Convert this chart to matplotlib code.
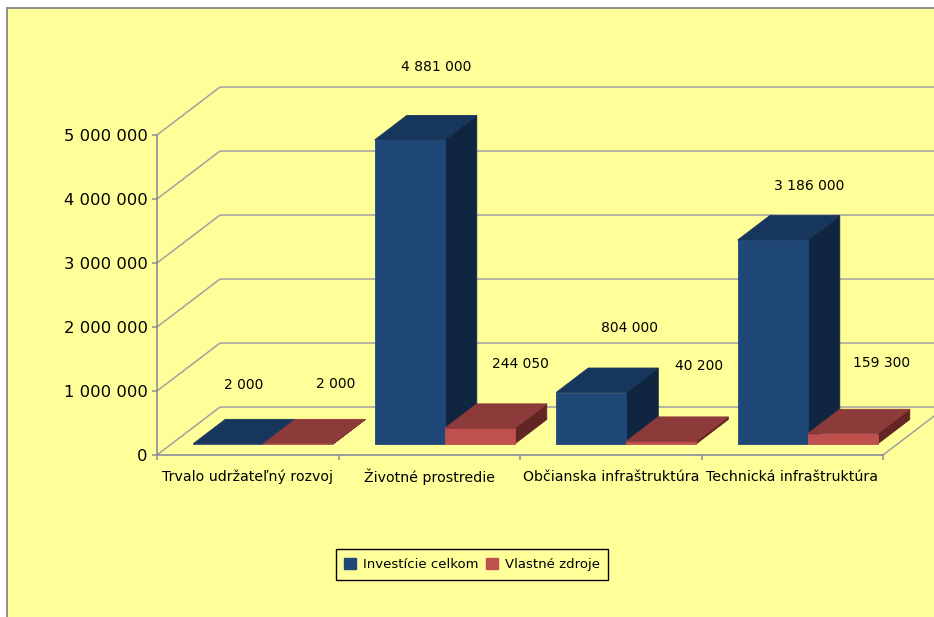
import matplotlib
matplotlib.use("Agg")
import matplotlib.pyplot as plt
from matplotlib.patches import Patch, Polygon, Rectangle

categories = ["Trvalo udržateľný rozvoj", "Životné prostredie",
              "Občianska infraštruktúra", "Technická infraštruktúra"]
series_names = ["Investície celkom", "Vlastné zdroje"]
total_values = [2000, 4750000, 804000, 3186000]
own_values = [2000, 244050, 40200, 159300]
total_labels = ["2 000", "4 881 000", "804 000", "3 186 000"]
own_labels = ["2 000", "244 050", "40 200", "159 300"]
y_ticks = [0, 1000000, 2000000, 3000000, 4000000, 5000000]
y_tick_labels = ["0", "1 000 000", "2 000 000", "3 000 000", "4 000 000", "5 000 000"]

W, H = 934, 617
BG = "#ffff99"
GRID = "#a0a0a0"
BLUE = ("#1f4879", "#17365d", "#10253f")
RED = ("#c0504d", "#8c3a3a", "#632523")
LABEL_SIZE = 10

# plot area in pixels, front plane of the fake 3d box
LEFT, RIGHT, BOTTOM, TOP = 157, 883, 455, 135
DEPTH_PX = (63, 48)
BAR_PX = 70

fig = plt.figure(figsize=(W / 100, H / 100), dpi=100, facecolor="white")
fig.add_artist(Rectangle((7 / W, -0.01), 1, 1.01 - 8 / H, transform=fig.transFigure,
                         facecolor=BG, edgecolor="#8c8c8c", linewidth=1.4, zorder=-1))
ax = fig.add_axes([LEFT / W, 1 - BOTTOM / H, (RIGHT - LEFT) / W, (BOTTOM - TOP) / H])
ax.set_xlim(0, len(categories))
ax.set_ylim(0, 5000000)
ax.patch.set_alpha(0)

x_per_px = len(categories) / (RIGHT - LEFT)
y_per_px = 5000000 / (BOTTOM - TOP)


def project(x, y, z):
    # z is the depth, 0 at the front and 1 at the back wall
    return (x + z * DEPTH_PX[0] * x_per_px, y + z * DEPTH_PX[1] * y_per_px)


def draw_bar(x0, value, colors, label, offset):
    x1 = x0 + BAR_PX * x_per_px
    z0, z1 = 0.23, 0.74
    front = [project(x0, 0, z0), project(x1, 0, z0), project(x1, value, z0), project(x0, value, z0)]
    top = [project(x0, value, z0), project(x1, value, z0), project(x1, value, z1), project(x0, value, z1)]
    side = [project(x1, 0, z0), project(x1, 0, z1), project(x1, value, z1), project(x1, value, z0)]
    # side goes first so flat bars only show their top
    for pts, color in ((side, colors[2]), (front, colors[0]), (top, colors[1])):
        ax.add_patch(Polygon(pts, closed=True, facecolor=color, edgecolor=color,
                             linewidth=0.6, clip_on=False, zorder=3))
    anchor = project((x0 + x1) / 2, value, z0)
    ax.annotate(label, anchor, xytext=(offset[0] * 0.72, offset[1] * 0.72),
                textcoords="offset points", ha="center", va="center",
                fontsize=LABEL_SIZE, color="black", zorder=5)


# back wall, floor edges and grid lines
for tick in y_ticks:
    back_a = project(0, tick, 1)
    back_b = project(len(categories), tick, 1)
    front_a = project(0, tick, 0)
    ax.plot([front_a[0], back_a[0], back_b[0]], [front_a[1], back_a[1], back_b[1]],
            color=GRID, linewidth=1.1, clip_on=False, zorder=1)
end_front = project(len(categories), 0, 0)
end_back = project(len(categories), 0, 1)
ax.plot([end_front[0], end_back[0]], [end_front[1], end_back[1]],
        color=GRID, linewidth=1.1, clip_on=False, zorder=1)

total_offsets = [(16, 59), (27, 73), (38, 65), (37, 54)]
own_offsets = [(38, 60), (41, 64), (38, 75), (39, 71)]
for i in range(len(categories)):
    x_start = i + 0.505 - BAR_PX * x_per_px
    draw_bar(x_start, total_values[i], BLUE, total_labels[i], total_offsets[i])
    draw_bar(i + 0.505, own_values[i], RED, own_labels[i], own_offsets[i])

for side in ("top", "right"):
    ax.spines[side].set_visible(False)
for side in ("left", "bottom"):
    ax.spines[side].set_color("#8c8c9c")
    ax.spines[side].set_linewidth(1.2)

ax.set_yticks(y_ticks)
ax.set_yticklabels(y_tick_labels, fontsize=11.8)
ax.set_xticks(range(len(categories) + 1))
ax.set_xticklabels([""] * (len(categories) + 1))
ax.tick_params(axis="both", color="#8c8c9c", length=3.6, width=1.1)
ax.tick_params(axis="y", pad=3)
for i, name in enumerate(categories):
    ax.annotate(name, (i + 0.5, 0), xytext=(0, -16), textcoords="offset points",
                ha="center", va="center", fontsize=10.2, color="black")

handles = [Patch(facecolor=BLUE[0], edgecolor=BLUE[0]), Patch(facecolor=RED[0], edgecolor=RED[0])]
legend = fig.legend(handles, series_names, loc="center", bbox_to_anchor=(472 / W, 1 - 564.5 / H),
                    ncol=2, fontsize=9.5, frameon=True, fancybox=False, facecolor=BG,
                    edgecolor="black", framealpha=1, handlelength=0.9, handleheight=0.9,
                    handletextpad=0.5, columnspacing=0.6, borderpad=0.65, borderaxespad=0)
legend.get_frame().set_linewidth(1.0)

fig.savefig("out.png", dpi=100, facecolor=fig.get_facecolor())
